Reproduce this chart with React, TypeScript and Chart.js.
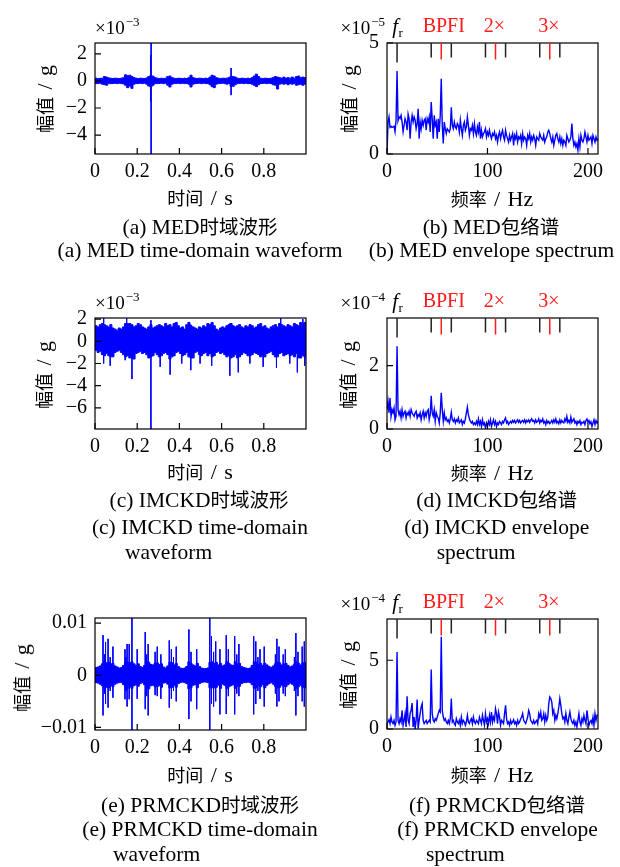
import React, { useEffect, useRef } from 'react';
import { Chart, registerables } from 'chart.js';

Chart.register(...registerables);

// ---------------- data ----------------
// Time waveforms: a dense noise band (max / min per 0.01 s bin, units of 1e-3 g)
// plus discrete impulses (time s, max, min, units of 1e-3 g).
const BIN_WIDTH_S = 0.01;

const WAVE_A_BAND_MAX = [
  0.2, 0.17, 0.19, 0.2, 0.32, 0.28, 0.22, 0.2, 0.17, 0.2,
  0.19, 0.17, 0.2, 0.24, 0.45, 0.38, 0.42, 0.32, 0.24, 0.2,
  0.17, 0.2, 0.19, 0.17, 0.22, 0.32, 0.4, 0.35, 0.24, 0.2,
  0.17, 0.2, 0.17, 0.2, 0.32, 0.36, 0.24, 0.2, 0.17, 0.2,
  0.19, 0.17, 0.2, 0.17, 0.24, 0.42, 0.24, 0.2, 0.17, 0.2,
  0.19, 0.17, 0.2, 0.17, 0.28, 0.42, 0.36, 0.24, 0.2, 0.17,
  0.2, 0.19, 0.2, 0.24, 0.35, 0.32, 0.28, 0.2, 0.17, 0.2,
  0.19, 0.17, 0.2, 0.17, 0.24, 0.36, 0.5, 0.32, 0.2, 0.17,
  0.2, 0.19, 0.17, 0.2, 0.24, 0.32, 0.28, 0.24, 0.2, 0.28,
  0.2, 0.24, 0.2, 0.28, 0.2, 0.32, 0.36, 0.24, 0.28, 0.24,
];
const WAVE_A_BAND_MIN = [
  -0.2, -0.19, -0.17, -0.24, -0.28, -0.32, -0.2, -0.2, -0.19, -0.17,
  -0.2, -0.17, -0.2, -0.22, -0.32, -0.5, -0.38, -0.55, -0.24, -0.2,
  -0.19, -0.17, -0.2, -0.17, -0.24, -0.38, -0.45, -0.32, -0.2, -0.2,
  -0.19, -0.17, -0.2, -0.17, -0.32, -0.45, -0.24, -0.2, -0.19, -0.17,
  -0.2, -0.17, -0.2, -0.19, -0.24, -0.45, -0.24, -0.2, -0.19, -0.17,
  -0.2, -0.17, -0.2, -0.19, -0.28, -0.42, -0.5, -0.24, -0.2, -0.19,
  -0.17, -0.2, -0.24, -0.2, -0.4, -0.4, -0.28, -0.2, -0.19, -0.17,
  -0.2, -0.17, -0.2, -0.19, -0.24, -0.32, -0.42, -0.28, -0.2, -0.19,
  -0.17, -0.2, -0.17, -0.2, -0.28, -0.32, -0.6, -0.24, -0.2, -0.24,
  -0.2, -0.28, -0.2, -0.24, -0.2, -0.32, -0.28, -0.24, -0.32, -0.24,
];
const WAVE_A_SPIKE_T = [0.263, 0.266, 0.645];
const WAVE_A_SPIKE_MAX = [1.9, 3.2, 0.95];
const WAVE_A_SPIKE_MIN = [-1.5, -6.0, -1.05];

const WAVE_C_BAND_MAX = [
  1.4, 1.3, 1.5, 1.6, 1.5, 1.4, 1.3, 1.5, 1.2, 1.1,
  1.0, 1.2, 1.1, 1.3, 1.6, 1.6, 1.6, 1.5, 1.3, 1.4,
  1.6, 1.5, 1.3, 1.2, 1.1, 1.3, 1.5, 1.2, 1.3, 1.4,
  1.5, 1.4, 1.3, 1.6, 1.4, 1.5, 1.3, 1.6, 1.7, 1.4,
  1.2, 1.3, 1.1, 1.5, 1.7, 1.4, 1.3, 1.2, 1.1, 1.3,
  1.2, 1.4, 1.3, 1.6, 1.5, 1.7, 1.4, 1.1, 1.0, 1.2,
  1.3, 1.2, 1.4, 1.5, 1.6, 1.4, 1.3, 1.4, 1.5, 1.3,
  1.2, 1.4, 1.3, 1.5, 1.4, 1.2, 1.3, 1.5, 1.6, 1.3,
  1.4, 1.2, 1.1, 1.3, 1.4, 1.5, 1.3, 1.6, 1.5, 1.4,
  1.3, 1.5, 1.4, 1.3, 1.6, 1.5, 1.4, 1.7, 1.6, 1.7,
];
const WAVE_C_BAND_MIN = [
  -0.8, -1.0, -0.9, -1.2, -1.3, -1.1, -1.3, -1.4, -1.4, -1.0,
  -0.9, -0.8, -1.0, -1.2, -1.4, -1.3, -1.5, -1.5, -1.6, -1.1,
  -1.0, -0.9, -1.1, -1.0, -1.2, -1.5, -1.4, -1.3, -1.0, -1.2,
  -1.4, -1.3, -1.1, -1.0, -1.2, -1.6, -1.4, -1.3, -1.0, -0.9,
  -1.1, -1.3, -1.2, -1.0, -1.4, -1.5, -1.5, -1.0, -0.9, -1.2,
  -1.3, -1.1, -1.0, -1.3, -1.1, -1.4, -1.3, -1.0, -0.9, -1.1,
  -1.0, -1.2, -1.4, -1.3, -1.5, -1.4, -1.2, -1.5, -1.4, -1.2,
  -1.0, -1.1, -1.3, -1.3, -1.2, -1.0, -1.1, -1.2, -1.4, -1.3,
  -1.4, -1.1, -1.0, -0.9, -1.2, -1.4, -1.4, -1.1, -1.0, -1.3,
  -1.2, -1.1, -1.3, -1.2, -1.4, -1.1, -1.5, -1.5, -1.3, -1.4,
];
const WAVE_C_SPIKE_T = [0.041, 0.072, 0.143, 0.15, 0.175, 0.265, 0.309, 0.356, 0.411, 0.454, 0.498, 0.553, 0.639, 0.679, 0.734, 0.797, 0.86, 0.88, 0.923, 0.959, 0.985, 0.994];
const WAVE_C_SPIKE_MAX = [2.2, 1.2, 1.3, 2.1, 1.2, 1.9, 1.3, 1.3, 1.2, 1.5, 1.2, 1.4, 1.6, 1.3, 1.2, 1.3, 1.3, 2.2, 1.2, 1.4, 2.0, 1.6];
const WAVE_C_SPIKE_MIN = [-2.0, -2.2, -1.7, -1.2, -3.4, -8.5, -2.3, -3.0, -2.0, -2.6, -2.0, -2.2, -3.1, -2.8, -2.0, -2.3, -2.4, -1.0, -2.0, -2.8, -1.2, -2.2];

const WAVE_E_BAND_MAX = [
  1.5, 1.6, 1.8, 2.2, 2.6, 2.4, 2.5, 2.2, 2.3, 1.8,
  1.6, 1.4, 1.5, 1.9, 2.4, 2.5, 2.4, 2.6, 2.2, 1.9,
  2.2, 1.7, 1.5, 1.9, 2.6, 2.5, 2.1, 2.0, 2.3, 2.4,
  2.1, 2.2, 1.6, 1.4, 1.8, 2.5, 2.4, 2.0, 2.3, 1.7,
  1.4, 1.3, 1.4, 1.7, 2.6, 2.3, 2.0, 1.8, 2.3, 1.7,
  1.4, 1.3, 1.3, 1.4, 2.5, 2.6, 2.3, 2.5, 2.0, 2.3,
  1.8, 2.0, 2.6, 2.3, 2.0, 1.9, 2.6, 2.2, 2.3, 1.7,
  1.5, 1.4, 1.3, 1.4, 1.9, 2.6, 2.5, 2.1, 2.3, 1.9,
  2.3, 2.0, 1.7, 1.5, 1.8, 2.2, 2.5, 2.4, 2.0, 2.2,
  2.3, 1.9, 1.6, 1.8, 2.1, 2.6, 2.3, 2.0, 2.4, 2.5,
];
const WAVE_E_BAND_MIN = [
  -1.4, -1.5, -1.7, -2.0, -2.5, -2.3, -2.4, -2.0, -2.2, -1.7,
  -1.5, -1.4, -1.4, -1.8, -2.3, -2.5, -2.2, -2.5, -2.0, -1.8,
  -2.1, -1.6, -1.4, -1.8, -2.5, -2.6, -2.0, -1.9, -2.2, -2.2,
  -2.0, -2.3, -1.5, -1.4, -1.7, -2.4, -2.3, -1.9, -2.3, -1.6,
  -1.4, -1.3, -1.4, -1.6, -2.6, -2.4, -1.9, -1.8, -2.4, -1.6,
  -1.4, -1.3, -1.3, -1.4, -2.4, -2.4, -2.4, -2.3, -1.9, -2.5,
  -1.7, -1.9, -2.5, -2.2, -2.0, -1.8, -2.5, -2.1, -2.1, -1.6,
  -1.4, -1.4, -1.3, -1.4, -1.8, -2.5, -2.4, -2.0, -2.2, -1.8,
  -2.4, -1.9, -1.6, -1.4, -1.7, -2.1, -2.4, -2.3, -1.9, -2.1,
  -2.2, -1.8, -1.5, -1.7, -2.0, -2.5, -2.2, -1.9, -2.3, -2.4,
];
const WAVE_E_SPIKE_T = [
  0.038, 0.045, 0.05, 0.062, 0.072, 0.085, 0.142, 0.147, 0.152, 0.162, 0.175, 0.2,
  0.238, 0.245, 0.252, 0.285, 0.295, 0.312, 0.352, 0.362, 0.372, 0.385, 0.445, 0.455, 0.482,
  0.544, 0.552, 0.562, 0.572, 0.592, 0.622, 0.632, 0.662, 0.672, 0.682,
  0.752, 0.762, 0.772, 0.782, 0.802, 0.855, 0.862, 0.872, 0.892, 0.902,
  0.945, 0.952, 0.962, 0.982, 0.992,
];
const WAVE_E_SPIKE_MAX = [
  7.7, 4.0, 6.4, 7.0, 3.5, 5.5, 5.0, 3.5, 6.0, 6.0, 11.5, 5.0,
  8.3, 4.0, 6.0, 4.5, 5.5, 4.0, 6.7, 5.0, 3.5, 5.5, 8.8, 4.5, 5.0,
  11.5, 7.5, 4.5, 6.5, 5.0, 7.7, 5.0, 7.5, 4.0, 6.0,
  7.5, 6.5, 3.5, 5.0, 5.5, 4.0, 7.0, 5.5, 4.0, 5.0,
  3.5, 8.1, 4.5, 5.5, 6.5,
];
const WAVE_E_SPIKE_MIN = [
  -7.7, -3.5, -5.5, -6.2, -3.0, -4.3, -4.6, -3.0, -6.0, -4.6, -11.5, -4.5,
  -6.5, -4.0, -7.7, -3.8, -4.0, -4.5, -6.2, -4.5, -3.0, -5.0, -8.4, -5.0, -6.5,
  -11.5, -5.5, -6.0, -5.0, -7.5, -7.4, -4.0, -7.5, -3.5, -4.0,
  -7.5, -5.5, -3.0, -4.5, -6.0, -3.5, -6.0, -5.0, -3.5, -4.0,
  -3.0, -7.7, -4.0, -5.0, -6.0,
];

// envelope spectra, 1 Hz resolution from 0 Hz
const FREQ_STEP_HZ = 1;
// units of 1e-5 g
const SPEC_B = [
  0, 1.44, 1.67, 1.2, 1.25, 1.2, 1.22, 1.25, 1.0, 1.5,
  3.74, 1.5, 1.67, 1.6, 1.74, 1.44, 1.0, 1.29, 1.59, 1.44,
  1.07, 1.8, 1.59, 0.69, 1.44, 1.74, 1.44, 1.67, 1.52, 1.14,
  1.37, 2.04, 0.69, 1.44, 1.14, 1.52, 1.29, 1.52, 1.59, 1.07,
  1.59, 1.44, 1.67, 0.99, 2.34, 1.59, 0.69, 1.74, 1.29, 1.44,
  0.69, 1.59, 0.99, 1.74, 3.39, 1.29, 0.47, 1.44, 1.14, 0.92,
  1.14, 1.07, 0.99, 1.14, 2.1, 1.29, 1.14, 1.44, 1.22, 1.14,
  1.37, 1.29, 0.99, 1.52, 1.14, 0.84, 1.29, 1.44, 1.07, 1.22,
  1.67, 1.29, 0.84, 1.14, 1.07, 1.29, 0.92, 1.37, 0.99, 0.84,
  1.22, 0.99, 1.44, 0.69, 1.07, 0.77, 0.92, 0.99, 1.14, 0.77,
  0.99, 0.84, 1.07, 0.84, 0.69, 0.92, 0.84, 0.99, 0.69, 0.84,
  0.54, 0.84, 0.99, 0.69, 0.92, 1.07, 0.77, 0.62, 1.07, 0.84,
  0.69, 0.54, 0.84, 0.62, 0.77, 0.92, 0.39, 0.84, 0.69, 0.92,
  0.54, 0.77, 0.69, 0.84, 0.47, 0.92, 0.62, 0.77, 0.69, 0.39,
  0.84, 0.69, 0.92, 0.54, 0.77, 0.62, 0.84, 0.69, 0.39, 0.77,
  0.69, 0.62, 0.92, 0.77, 0.69, 0.62, 0.84, 0.54, 0.69, 0.77,
  0.99, 1.07, 0.92, 0.69, 0.54, 0.77, 0.39, 0.62, 0.84, 0.92,
  0.69, 0.54, 0.77, 0.47, 0.69, 0.39, 0.62, 0.54, 0.39, 0.84,
  0.69, 0.54, 0.62, 0.77, 1.37, 0.69, 0.39, 0.54, 0.32, 0.47,
  0.17, 0.69, 0.32, 0.84, 0.62, 0.54, 0.69, 0.99, 0.77, 0.54,
  0.84, 0.62, 0.69, 0.77, 0.47, 0.84, 0.69, 0.54, 0.77, 0.62,
  0.69,
];
// units of 1e-4 g
const SPEC_D = [
  0.61, 0.87, 0.51, 0.98, 0.4, 0.61, 0.51, 0.66, 0.29, 0.4,
  2.61, 0.61, 0.45, 0.56, 0.35, 0.61, 0.4, 0.51, 0.56, 0.35,
  0.51, 0.45, 0.56, 0.4, 0.61, 0.51, 0.45, 0.4, 0.51, 0.56,
  0.35, 0.45, 0.4, 0.51, 0.29, 0.45, 0.56, 0.35, 0.51, 0.4,
  0.56, 0.61, 0.29, 0.45, 1.05, 0.51, 0.4, 0.61, 0.24, 0.51,
  0.4, 0.35, 0.19, 0.51, 1.14, 0.61, 0.24, 0.51, 0.29, 0.35,
  0.24, 0.29, 0.19, 0.32, 0.53, 0.29, 0.24, 0.32, 0.19, 0.29,
  0.24, 0.35, 0.19, 0.24, 0.29, 0.14, 0.24, 0.19, 0.32, 0.51,
  0.69, 0.45, 0.32, 0.24, 0.19, 0.24, 0.14, 0.19, 0.14, 0.24,
  0.14, 0.32, 0.14, 0.24, 0.08, 0.29, 0.14, 0.19, 0.03, 0.19,
  0.08, 0.24, 0.14, 0.29, 0.08, 0.19, 0.29, 0.14, 0.24, 0.08,
  0.19, 0.14, 0.24, 0.19, 0.14, 0.24, 0.19, 0.29, 0.35, 0.19,
  0.24, 0.14, 0.19, 0.24, 0.19, 0.27, 0.21, 0.27, 0.19, 0.24,
  0.29, 0.21, 0.27, 0.19, 0.24, 0.27, 0.21, 0.29, 0.19, 0.27,
  0.23, 0.29, 0.21, 0.27, 0.32, 0.24, 0.27, 0.19, 0.29, 0.21,
  0.24, 0.32, 0.19, 0.27, 0.23, 0.32, 0.19, 0.24, 0.14, 0.27,
  0.19, 0.24, 0.17, 0.21, 0.27, 0.19, 0.29, 0.21, 0.32, 0.19,
  0.24, 0.17, 0.29, 0.19, 0.27, 0.21, 0.19, 0.32, 0.24, 0.4,
  0.21, 0.27, 0.19, 0.38, 0.21, 0.27, 0.32, 0.19, 0.24, 0.14,
  0.24, 0.19, 0.27, 0.14, 0.21, 0.19, 0.24, 0.14, 0.27, 0.32,
  0.21, 0.27, 0.17, 0.23, 0.08, 0.19, 0.29, 0.14, 0.27, 0.19,
  0.24,
];
// units of 1e-4 g
const SPEC_F = [
  0.39, 0.51, 0.68, 0.39, 0.87, 0.51, 0.39, 0.63, 0.27, 0.51,
  5.6, 0.63, 0.39, 0.75, 0.51, 1.36, 0.27, 0.63, 1.12, 0.15,
  2.38, 0.63, 0.39, 1.12, 1.36, 1.89, 0.15, 0.87, 0.02, 0.63,
  2.14, 0.02, 0.63, 1.12, 1.6, 1.84, 0.63, 0.39, 0.51, 0.63,
  0.39, 0.51, 0.63, 0.51, 4.32, 1.12, 0.63, 0.51, 0.75, 0.63,
  0.87, 1.12, 1.36, 1.24, 6.7, 1.36, 0.87, 0.63, 0.75, 0.51,
  0.39, 0.63, 0.39, 0.75, 2.21, 0.51, 0.63, 0.39, 0.27, 0.75,
  0.51, 0.39, 0.63, 0.27, 0.87, 0.39, 0.63, 0.51, 0.27, 0.51,
  1.0, 0.51, 0.39, 0.63, 0.75, 0.39, 0.87, 0.51, 0.39, 0.63,
  0.51, 0.39, 0.87, 0.63, 0.39, 1.0, 0.63, 0.27, 1.12, 0.51,
  0.75, 0.39, 1.0, 0.51, 1.24, 0.51, 0.87, 0.63, 1.48, 1.12,
  0.39, 1.24, 0.87, 0.27, 0.63, 0.51, 0.39, 1.12, 1.72, 0.75,
  0.39, 0.51, 0.27, 0.63, 0.39, 0.51, 0.68, 0.39, 0.51, 0.27,
  0.63, 0.39, 0.51, 0.75, 0.87, 1.12, 0.63, 0.51, 0.39, 0.63,
  0.87, 1.36, 1.12, 0.63, 0.51, 0.39, 0.63, 0.39, 0.51, 0.63,
  0.39, 1.12, 0.87, 1.24, 0.63, 0.75, 1.12, 0.51, 1.0, 0.63,
  0.87, 1.84, 2.33, 2.21, 1.97, 1.12, 1.36, 0.63, 1.0, 0.75,
  1.12, 1.6, 2.21, 1.72, 1.12, 0.75, 0.87, 0.51, 1.12, 0.63,
  0.39, 0.87, 1.24, 0.75, 0.51, 0.39, 0.63, 0.27, 0.51, 0.15,
  0.63, 1.12, 0.51, 0.27, 0.75, 0.51, 1.0, 0.63, 0.39, 1.36,
  0.75, 0.27, 0.51, 0.63, 0.39, 0.87, 0.27, 1.12, 0.63, 1.0,
  1.0,
];

// fault frequency markers (Hz)
const FR_HZ = 10;
const MARKER_RED_HZ = [54, 108, 162];
const MARKER_BLACK_HZ = [44, 64, 98, 118, 152, 172];
const MARKER_LABELS = ['BPFI', '2×', '3×'];
const MARKER_LABEL_HZ = [56.5, 107, 161];

// tick values
const TIME_TICKS = [0, 0.2, 0.4, 0.6, 0.8];
const FREQ_TICKS = [0, 100, 200];
const A_Y_TICKS = [-4, -2, 0, 2];
const C_Y_TICKS = [-6, -4, -2, 0, 2];
const E_Y_TICKS = [-0.01, 0, 0.01];
const B_Y_TICKS = [0, 5];
const D_Y_TICKS = [0, 2];
const F_Y_TICKS = [0, 5];

// ---------------- styling ----------------
const SERIF = "'Liberation Serif', 'Times New Roman', 'Noto Sans CJK SC', serif";
const BLUE = '#0000ff';
const RED = '#ff1a1a';
const TICK_LEN = 6;

const fmt = (v: number) => {
  const s = String(Math.round(v * 1e6) / 1e6);
  return s.replace('-', '\u2212');
};

type Pt = { x: number; y: number | null };

function bandPoints(arr: number[], scale: number): Pt[] {
  const pts: Pt[] = arr.map((v, i) => ({ x: i * BIN_WIDTH_S, y: v * scale }));
  pts.push({ x: arr.length * BIN_WIDTH_S, y: arr[arr.length - 1] * scale });
  return pts;
}
function spikePoints(t: number[], mx: number[], mn: number[], scale: number): Pt[] {
  const pts: Pt[] = [];
  t.forEach((ti, i) => {
    pts.push({ x: ti, y: mx[i] * scale });
    pts.push({ x: ti, y: mn[i] * scale });
    pts.push({ x: ti, y: null });
  });
  return pts;
}
function specPoints(arr: number[]): Pt[] {
  return arr.map((v, i) => ({ x: i * FREQ_STEP_HZ, y: v }));
}

function waveDatasets(bMax: number[], bMin: number[], sT: number[], sMax: number[], sMin: number[], scale: number) {
  return [
    {
      data: bandPoints(bMax, scale),
      borderColor: BLUE,
      backgroundColor: BLUE,
      borderWidth: 1,
      pointRadius: 0,
      stepped: true,
      fill: '+1',
    },
    {
      data: bandPoints(bMin, scale),
      borderColor: BLUE,
      borderWidth: 1,
      pointRadius: 0,
      stepped: true,
      fill: false,
    },
    {
      data: spikePoints(sT, sMax, sMin, scale),
      borderColor: BLUE,
      borderWidth: 1,
      pointRadius: 0,
      spanGaps: false,
      fill: false,
    },
  ];
}
function specDatasets(arr: number[]) {
  return [
    {
      data: specPoints(arr),
      borderColor: BLUE,
      borderWidth: 1.4,
      pointRadius: 0,
      tension: 0,
      fill: false,
    },
  ];
}

const framePlugin = {
  id: 'frame',
  afterDatasetsDraw(chart: any, _args: any, opts: any) {
    const { ctx, chartArea: a } = chart;
    const xs = chart.scales.x;
    const ys = chart.scales.y;
    ctx.save();
    ctx.strokeStyle = '#000';
    ctx.lineWidth = 1.2;
    ctx.strokeRect(a.left, a.top, a.right - a.left, a.bottom - a.top);
    ctx.beginPath();
    xs.ticks.forEach((t: any) => {
      const px = xs.getPixelForValue(t.value);
      ctx.moveTo(px, a.bottom);
      ctx.lineTo(px, a.bottom - TICK_LEN);
    });
    ys.ticks.forEach((t: any) => {
      const py = ys.getPixelForValue(t.value);
      ctx.moveTo(a.left, py);
      ctx.lineTo(a.left + TICK_LEN, py);
    });
    ctx.stroke();

    if (opts && opts.markers) {
      ctx.lineWidth = 1.5;
      const line = (hz: number, len: number, color: string) => {
        const px = xs.getPixelForValue(hz);
        ctx.strokeStyle = color;
        ctx.beginPath();
        ctx.moveTo(px, a.top);
        ctx.lineTo(px, a.top + len);
        ctx.stroke();
      };
      line(FR_HZ, 19.5, '#222');
      MARKER_BLACK_HZ.forEach((hz) => line(hz, 14.5, '#222'));
      MARKER_RED_HZ.forEach((hz) => line(hz, 16.5, RED));

      ctx.textBaseline = 'alphabetic';
      ctx.fillStyle = RED;
      ctx.textAlign = 'center';
      ctx.font = `20px ${SERIF}`;
      MARKER_LABELS.forEach((txt, i) => {
        ctx.fillText(txt, xs.getPixelForValue(MARKER_LABEL_HZ[i]), a.top - 11);
      });
      const fx = xs.getPixelForValue(FR_HZ);
      ctx.fillStyle = '#000';
      ctx.textAlign = 'right';
      ctx.font = `italic 21px ${SERIF}`;
      ctx.fillText('f', fx + 1, a.top - 10);
      ctx.textAlign = 'left';
      ctx.font = `13px ${SERIF}`;
      ctx.fillText('r', fx + 1.5, a.top - 6);
    }

    if (opts && opts.exponent) {
      ctx.fillStyle = '#000';
      ctx.textBaseline = 'alphabetic';
      ctx.textAlign = 'left';
      ctx.font = `19px ${SERIF}`;
      const w1 = ctx.measureText('×10').width;
      ctx.font = `13px ${SERIF}`;
      const w2 = ctx.measureText(opts.exponent).width;
      const x0 = opts.expAnchor === 'left' ? a.left : a.left - 2 - (w1 + 1 + w2);
      const yb = a.top - 9;
      ctx.font = `19px ${SERIF}`;
      ctx.fillText('×10', x0, yb);
      ctx.font = `13px ${SERIF}`;
      ctx.fillText(opts.exponent, x0 + w1 + 1, yb - 8);
    }
    ctx.restore();
  },
};

type PanelSpec = {
  canvasLeft: number;
  canvasWidth: number;
  plotLeft: number;
  plotRight: number;
  plotTop: number;
  plotBottom: number;
  datasets: any[];
  xMin: number;
  xMax: number;
  xTicks: number[];
  yMin: number;
  yMax: number;
  yTicks: number[];
  markers: boolean;
  exponent?: string;
  expAnchor?: 'left' | 'right';
};

const PAD_TOP = 40;
const X_AXIS_H = 34;

function ChartPanel({ p }: { p: PanelSpec }) {
  const ref = useRef<HTMLCanvasElement>(null);
  const top = p.plotTop - PAD_TOP;
  const height = p.plotBottom - p.plotTop + PAD_TOP + X_AXIS_H;
  useEffect(() => {
    if (!ref.current) return;
    const tickFont = { family: SERIF, size: 20 };
    const chart = new Chart(ref.current, {
      type: 'line',
      data: { datasets: p.datasets },
      options: {
        responsive: false,
        animation: false,
        events: [],
        layout: {
          padding: {
            left: 0,
            top: PAD_TOP,
            right: p.canvasLeft + p.canvasWidth - p.plotRight,
            bottom: 0,
          },
        },
        plugins: {
          legend: { display: false },
          tooltip: { enabled: false },
          filler: { propagate: false },
          frame: { markers: p.markers, exponent: p.exponent, expAnchor: p.expAnchor },
        } as any,
        scales: {
          x: {
            type: 'linear',
            min: p.xMin,
            max: p.xMax,
            grid: { display: false, drawTicks: false },
            border: { display: false },
            ticks: {
              font: tickFont,
              color: '#000',
              padding: 6,
              maxRotation: 0,
              autoSkip: false,
              callback: (v: any) => fmt(Number(v)),
            },
            afterBuildTicks: (s: any) => {
              s.ticks = p.xTicks.map((v) => ({ value: v }));
            },
            afterFit: (s: any) => {
              s.height = X_AXIS_H;
            },
          },
          y: {
            type: 'linear',
            min: p.yMin,
            max: p.yMax,
            grid: { display: false, drawTicks: false },
            border: { display: false },
            ticks: {
              font: tickFont,
              color: '#000',
              padding: 8,
              autoSkip: false,
              callback: (v: any) => fmt(Number(v)),
            },
            afterBuildTicks: (s: any) => {
              s.ticks = p.yTicks.map((v) => ({ value: v }));
            },
            afterFit: (s: any) => {
              s.width = p.plotLeft - p.canvasLeft;
            },
          },
        },
      },
      plugins: [framePlugin as any],
    } as any);
    return () => chart.destroy();
  }, []);
  return (
    <canvas
      ref={ref}
      width={p.canvasWidth}
      height={height}
      style={{ position: 'absolute', left: p.canvasLeft, top, width: p.canvasWidth, height }}
    />
  );
}

const L = { canvasLeft: 0, canvasWidth: 316, plotLeft: 95, plotRight: 306 };
const R = { canvasLeft: 316, canvasWidth: 304, plotLeft: 387, plotRight: 598 };
const timeX = { xMin: 0, xMax: 1, xTicks: TIME_TICKS, markers: false };
const freqX = { xMin: 0, xMax: 210, xTicks: FREQ_TICKS, markers: true };

const PANELS: PanelSpec[] = [
  {
    ...L, ...timeX, plotTop: 43, plotBottom: 154,
    datasets: waveDatasets(WAVE_A_BAND_MAX, WAVE_A_BAND_MIN, WAVE_A_SPIKE_T, WAVE_A_SPIKE_MAX, WAVE_A_SPIKE_MIN, 1),
    yMin: -5.4, yMax: 2.8, yTicks: A_Y_TICKS, exponent: '\u22123', expAnchor: 'left',
  },
  {
    ...R, ...freqX, plotTop: 43, plotBottom: 154, datasets: specDatasets(SPEC_B),
    yMin: 0, yMax: 5, yTicks: B_Y_TICKS, exponent: '\u22125', expAnchor: 'right',
  },
  {
    ...L, ...timeX, plotTop: 318, plotBottom: 429,
    datasets: waveDatasets(WAVE_C_BAND_MAX, WAVE_C_BAND_MIN, WAVE_C_SPIKE_T, WAVE_C_SPIKE_MAX, WAVE_C_SPIKE_MIN, 1),
    yMin: -7.9, yMax: 2.1, yTicks: C_Y_TICKS, exponent: '\u22123', expAnchor: 'left',
  },
  {
    ...R, ...freqX, plotTop: 318, plotBottom: 429, datasets: specDatasets(SPEC_D),
    yMin: 0, yMax: 3.5, yTicks: D_Y_TICKS, exponent: '\u22124', expAnchor: 'right',
  },
  {
    ...L, ...timeX, plotTop: 618, plotBottom: 730,
    datasets: waveDatasets(WAVE_E_BAND_MAX, WAVE_E_BAND_MIN, WAVE_E_SPIKE_T, WAVE_E_SPIKE_MAX, WAVE_E_SPIKE_MIN, 1e-3),
    yMin: -0.0105, yMax: 0.011, yTicks: E_Y_TICKS,
  },
  {
    ...R, ...freqX, plotTop: 619, plotBottom: 729, datasets: specDatasets(SPEC_F),
    yMin: 0, yMax: 8, yTicks: F_Y_TICKS, exponent: '\u22124', expAnchor: 'right',
  },
];

// ---------------- text ----------------
const CJK = (s: string, size: number) => <span style={{ fontSize: size }}>{s}</span>;
const SP = '\u2004';

function T({ x, y, children, align = 'center', size = 21.5, rotate = false }: any) {
  const tx = align === 'center' ? '-50%' : '0';
  return (
    <div
      style={{
        position: 'absolute',
        left: x,
        top: y,
        transform: `translate(${tx}, -50%)${rotate ? ' rotate(-90deg)' : ''}`,
        fontSize: size,
        lineHeight: 1,
        whiteSpace: 'nowrap',
        fontFamily: SERIF,
        color: '#000',
      }}
    >
      {children}
    </div>
  );
}

const yTitle = () => (
  <>
    {CJK('幅值', 18)}{SP}/{SP}g
  </>
);
const timeTitle = () => (
  <>
    {CJK('时间', 18)}{SP}/{SP}s
  </>
);
const freqTitle = () => (
  <>
    {CJK('频率', 18)}{SP}/{SP}Hz
  </>
);

export default function App() {
  return (
    <div
      style={{
        position: 'absolute',
        left: 0,
        top: 0,
        width: 620,
        height: 867,
        background: '#fff',
        overflow: 'hidden',
        fontFamily: SERIF,
      }}
    >
      {PANELS.map((p, i) => (
        <ChartPanel key={i} p={p} />
      ))}

      {/* y titles */}
      <T x={45} y={99} size={22} rotate>{yTitle()}</T>
      <T x={349} y={99} size={22} rotate>{yTitle()}</T>
      <T x={44} y={375} size={22} rotate>{yTitle()}</T>
      <T x={348} y={375} size={22} rotate>{yTitle()}</T>
      <T x={22} y={678} size={22} rotate>{yTitle()}</T>
      <T x={348} y={675} size={22} rotate>{yTitle()}</T>

      {/* x titles */}
      <T x={200} y={198} size={22}>{timeTitle()}</T>
      <T x={492} y={199} size={22}>{freqTitle()}</T>
      <T x={200} y={472} size={22}>{timeTitle()}</T>
      <T x={492} y={473} size={22}>{freqTitle()}</T>
      <T x={200} y={775} size={22}>{timeTitle()}</T>
      <T x={492} y={775} size={22}>{freqTitle()}</T>

      {/* captions */}
      <T x={200} y={228}>(a) MED{CJK('时域波形', 19.5)}</T>
      <T x={200} y={251}>(a) MED time-domain waveform</T>
      <T x={491} y={228}>(b) MED{CJK('包络谱', 19.5)}</T>
      <T x={491.5} y={251}>(b) MED envelope spectrum</T>

      <T x={199} y={501}>(c) IMCKD{CJK('时域波形', 19.5)}</T>
      <T x={200} y={528}>(c) IMCKD time-domain</T>
      <T x={125} y={553} align="left">waveform</T>
      <T x={496.7} y={501}>(d) IMCKD{CJK('包络谱', 19.5)}</T>
      <T x={496.7} y={528}>(d) IMCKD envelope</T>
      <T x={436.7} y={553} align="left">spectrum</T>

      <T x={200} y={806}>(e) PRMCKD{CJK('时域波形', 19.5)}</T>
      <T x={200} y={830}>(e) PRMCKD time-domain</T>
      <T x={113} y={855} align="left">waveform</T>
      <T x={497} y={806}>(f) PRMCKD{CJK('包络谱', 19.5)}</T>
      <T x={497.5} y={830}>(f) PRMCKD envelope</T>
      <T x={426} y={855} align="left">spectrum</T>
    </div>
  );
}
